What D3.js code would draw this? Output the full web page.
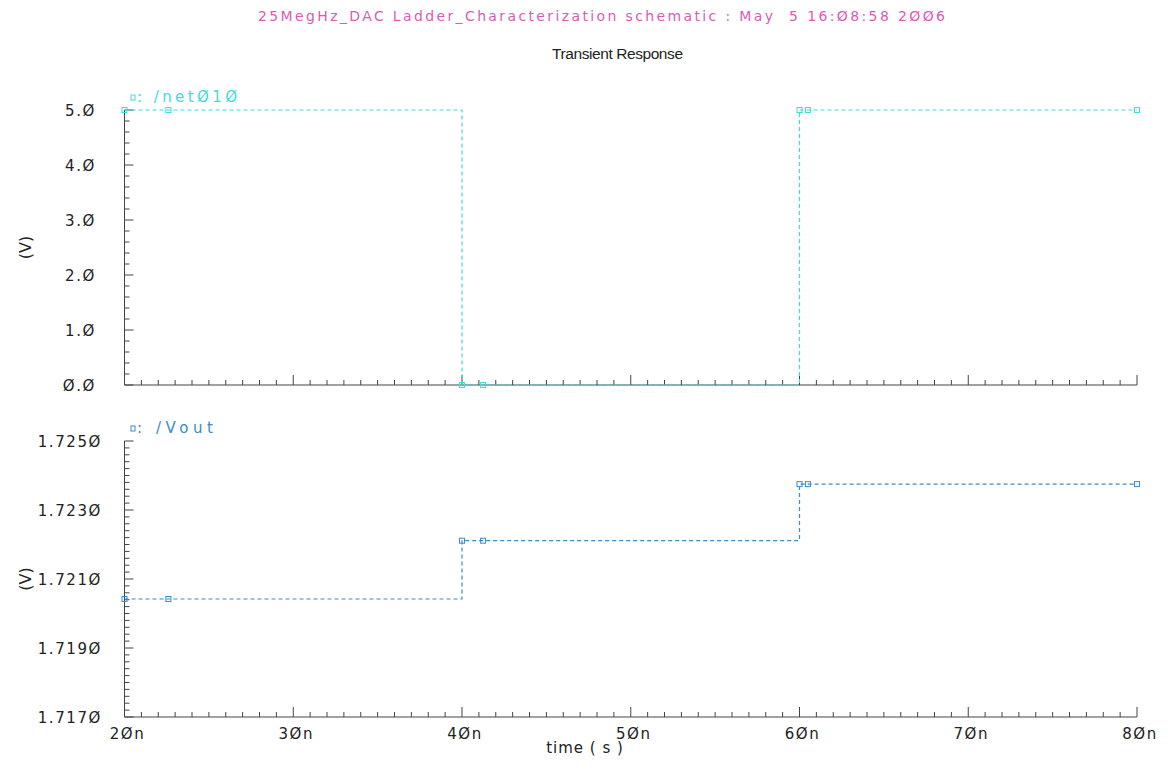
<!DOCTYPE html>
<html>
<head>
<meta charset="utf-8">
<script src="https://cdn.jsdelivr.net/npm/d3@7"></script>
<style>
  body { margin: 0; background: #fff; }
  svg text { font-family: "DejaVu Sans", "Liberation Sans", sans-serif; white-space: pre; }
</style>
</head>
<body>
<svg id="chart" width="1168" height="769"></svg>
<script>
// Simulation output points (time in ns)
var timeNs = [20, 22.6, 40, 41.25, 60, 60.5, 80];
var net010 = [5, 5, 0, 0, 5, 5, 5];
var vout = [1.72042, 1.72042, 1.72211, 1.72211, 1.72375, 1.72375, 1.72375];

var xTicks = [20, 30, 40, 50, 60, 70, 80];
var topTicks = [0, 1, 2, 3, 4, 5];
var botTicks = [1.717, 1.719, 1.721, 1.723, 1.725];

var titleText = "25MegHz_DAC Ladder_Characterization schematic : May  5 16:Ø8:58 2ØØ6";
var subTitle = "Transient Response";

// Cadence style slashed zeros
function slash(s) { return s.replace(/0/g, "Ø"); }

var svg = d3.select("#chart");

var x = d3.scaleLinear().domain([20, 80]).range([124.5, 1137]);
var yTop = d3.scaleLinear().domain([0, 5]).range([385, 110]);
var yBot = d3.scaleLinear().domain([1.717, 1.725]).range([717, 441]);

svg.append("text")
  .attr("x", 258).attr("y", 21)
  .attr("textLength", 687).attr("lengthAdjust", "spacing")
  .style("font-size", "14px")
  .style("fill", "#d95cb8")
  .text(titleText);

svg.append("text")
  .attr("x", 552).attr("y", 59)
  .attr("textLength", 131).attr("lengthAdjust", "spacing")
  .style("font-family", "'Liberation Sans', sans-serif")
  .style("font-size", "15.5px")
  .style("fill", "#222")
  .text(subTitle);

// Draw one strip: axes with inside minor ticks, trace, markers, legend
function drawStrip(y, values, color, yMinor, yFmt, legend, legendY, legendLen, showXLabels) {
  var g = svg.append("g");
  var y0 = y.range()[0], y1 = y.range()[1];
  var axisColor = "#444";

  // x axis line and ticks (pointing up into plot)
  g.append("line")
    .attr("x1", x.range()[0]).attr("x2", x.range()[1])
    .attr("y1", y0).attr("y2", y0)
    .style("stroke", axisColor);
  var minorX = d3.range(20, 80.001, 1);
  g.selectAll(".xt").data(minorX).enter().append("line")
    .attr("x1", function(d) { return x(d); })
    .attr("x2", function(d) { return x(d); })
    .attr("y1", y0)
    .attr("y2", function(d) { return y0 - (d % 10 === 0 ? 10 : 5); })
    .style("stroke", axisColor);

  if (showXLabels) {
    g.selectAll(".xl").data(xTicks).enter().append("text")
      .attr("x", function(d) { return x(d) + 3; })
      .attr("y", y0 + 22)
      .attr("text-anchor", "middle")
      .style("font-size", "15px")
      .style("letter-spacing", "1.5px")
      .style("fill", "#222")
      .text(function(d) { return slash(d + "n"); });
  }

  // y axis line and ticks (pointing right)
  g.append("line")
    .attr("x1", x.range()[0]).attr("x2", x.range()[0])
    .attr("y1", y0).attr("y2", y1)
    .style("stroke", axisColor);
  var dom = y.domain();
  var n = Math.round((dom[1] - dom[0]) / yMinor);
  var minorY = d3.range(0, n + 1);
  var per = Math.round(n / (yFmt.ticks.length - 1));
  g.selectAll(".yt").data(minorY).enter().append("line")
    .attr("x1", x.range()[0])
    .attr("x2", function(i) { return x.range()[0] + (i % per === 0 ? 9 : 5); })
    .attr("y1", function(i) { return y(dom[0] + i * yMinor); })
    .attr("y2", function(i) { return y(dom[0] + i * yMinor); })
    .style("stroke", axisColor);

  g.selectAll(".yl").data(yFmt.ticks).enter().append("text")
    .attr("x", yFmt.right)
    .attr("y", function(d) { return y(d) + 6; })
    .attr("text-anchor", "end")
    .style("font-size", "15px")
    .style("letter-spacing", "1.6px")
    .style("fill", "#222")
    .text(function(d) { return slash(d3.format(yFmt.fmt)(d)); });

  // trace
  var pts = timeNs.map(function(t, i) { return { t: t, v: values[i] }; });
  var line = d3.line()
    .x(function(d) { return x(d.t); })
    .y(function(d) { return y(d.v); })
    .curve(d3.curveStepAfter);
  g.append("path")
    .datum(pts)
    .attr("d", line)
    .style("fill", "none")
    .style("stroke", color)
    .style("stroke-width", 1.2)
    .style("stroke-dasharray", "4,3");

  g.selectAll(".mk").data(pts).enter().append("rect")
    .attr("x", function(d) { return x(d.t) - 2.5; })
    .attr("y", function(d) { return y(d.v) - 2.5; })
    .attr("width", 5).attr("height", 5)
    .style("fill", "none")
    .style("stroke", color)
    .style("stroke-width", 1);

  // legend
  g.append("rect")
    .attr("x", 131).attr("y", legendY - 7)
    .attr("width", 4).attr("height", 5)
    .style("fill", "none").style("stroke", color);
  g.append("text")
    .attr("x", 137).attr("y", legendY)
    .attr("textLength", legendLen).attr("lengthAdjust", "spacing")
    .style("font-size", "15px")
    .style("fill", color)
    .text(": " + legend);

  // y label
  g.append("text")
    .attr("transform", "translate(31," + ((y0 + y1) / 2) + ") rotate(-90)")
    .attr("text-anchor", "middle")
    .style("font-size", "16px")
    .style("fill", "#222")
    .text("(V)");
}

drawStrip(yTop, net010, "#3fdcdc", 0.2,
  { ticks: topTicks, fmt: ".1f", right: 96 }, slash("/net010"), 102, 100, false);
drawStrip(yBot, vout, "#3a8cc8", 0.0002,
  { ticks: botTicks, fmt: ".4f", right: 102 }, "/Vout", 433, 76, true);

svg.append("text")
  .attr("x", 585).attr("y", 753)
  .attr("text-anchor", "middle")
  .style("font-size", "15px")
  .style("letter-spacing", "1px")
  .style("fill", "#222")
  .text("time ( s )");
</script>
</body>
</html>
